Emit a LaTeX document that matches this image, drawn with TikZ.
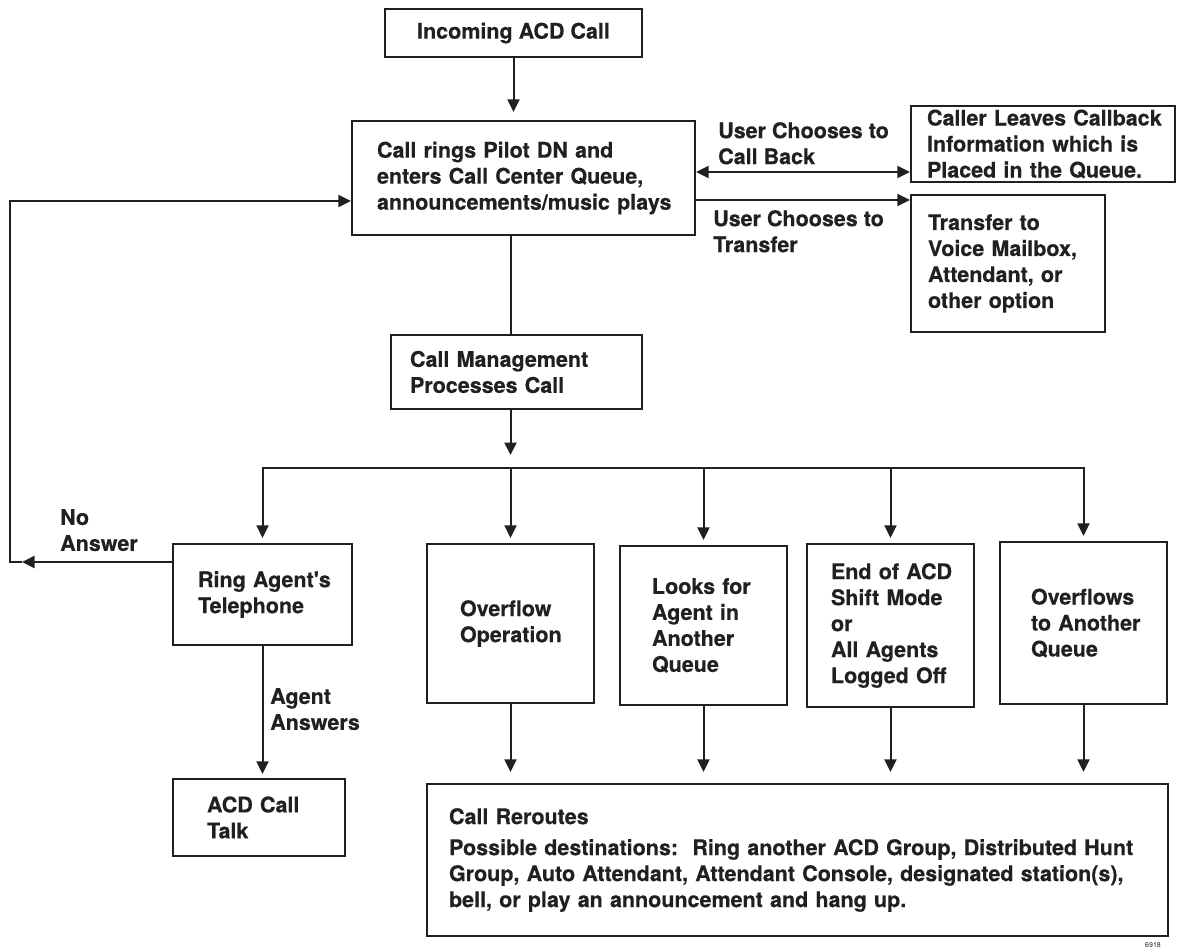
\documentclass[tikz,border=0pt]{standalone}
\usepackage{fontspec}
\setmainfont{TeX Gyre Heros}[BoldFeatures={FakeBold=0.4}]
\usetikzlibrary{arrows.meta,calc}
\definecolor{ink}{RGB}{35,31,32}
\begin{document}
\begin{tikzpicture}[x=1pt,y=-1pt,
  font=\fontsize{21.5}{26}\selectfont\bfseries,
  box/.style={draw=ink, line width=2.3pt, text=ink, inner ysep=0pt, align=left,
     execute at begin node={\rightskip=0pt plus 1fil minus 30pt}},
  conn/.style={draw=ink, line width=2pt},
  tip/.tip={Triangle[length=12.5pt,width=12pt]},
  arr/.style={conn, -tip},
  lbl/.style={text=ink, inner sep=0pt, anchor=north west, align=left},
]
\useasboundingbox (0,0) rectangle (1179,951);
\fill[white] (0,0) rectangle (1179,951);

% boxes
\node[draw=ink, line width=2.3pt, text=ink, inner sep=0pt, align=center,
      minimum width=257pt, minimum height=48pt] (inc) at (513.5,33) {Incoming ACD Call};
\node[box, minimum width=343pt, minimum height=114pt, inner xsep=25pt, text width=293pt]
  (rings) at (523.5,178) {Call rings Pilot DN and\\enters Call Center Queue,\\announcements/music plays};
\node[box, minimum width=264pt, minimum height=76pt, inner xsep=16pt, text width=232pt]
  (cb) at (1043,144) {Caller Leaves Callback\\Information which is\\Placed in the Queue.};
\node[box, minimum width=194pt, minimum height=137pt, inner xsep=17pt, text width=160pt]
  (tr) at (1008,263.5) {Transfer to\\Voice Mailbox,\\Attendant, or\\other option};
\node[box, minimum width=251pt, minimum height=74pt, inner xsep=19pt, text width=213pt]
  (cm) at (516.5,372) {Call Management\\Processes Call};
\node[box, minimum width=179pt, minimum height=101pt, inner xsep=25pt, text width=129pt]
  (ring) at (262.5,594.5) {Ring Agent\textquotesingle s\\Telephone};
\node[box, minimum width=167pt, minimum height=159pt, inner xsep=33pt, text width=101pt]
  (ov) at (510.5,623.5) {Overflow\\Operation};
\node[box, minimum width=167pt, minimum height=159pt, inner xsep=32pt, text width=103pt]
  (lk) at (703.5,625.5) {Looks for\\Agent in\\Another\\Queue};
\node[box, minimum width=167pt, minimum height=163pt, inner xsep=24pt, text width=119pt]
  (en) at (890.5,625.5) {End of ACD\\Shift Mode\\or\\All Agents\\Logged Off};
\node[box, minimum width=167pt, minimum height=162pt, inner xsep=31pt, text width=105pt]
  (ovq) at (1083.5,623) {Overflows\\to Another\\Queue};
\node[box, minimum width=172pt, minimum height=77pt, inner xsep=34pt, text width=104pt]
  (acd) at (259,817.5) {ACD Call\\Talk};
\node[box, minimum width=741pt, minimum height=152pt, inner xsep=22pt, text width=697pt]
  (rr) at (797.5,860) {Call Reroutes\\[5pt]Possible destinations:\ \ Ring another ACD Group, Distributed Hunt\\Group, Auto Attendant, Attendant Console, designated station(s),\\bell, or play an announcement and hang up.};

% labels
\node[lbl] (lcb) at (718,122) {User Chooses to\\Call Back};
\node[lbl] (ltr) at (713,210) {User Chooses to\\Transfer};
\node[lbl] (lno) at (60,509) {No\\Answer};
\node[lbl] (lag) at (270,688) {Agent\\Answers};
\node[text=ink, inner sep=0pt, font=\fontsize{7}{8}\selectfont\mdseries] (num) at (1153,945) {6918};

% helper coordinates
\coordinate (busy) at (0,468);
\coordinate (bushead) at (0,455);
\coordinate (cby) at (0,172);
\coordinate (try) at (0,200);
\coordinate (lpB) at (10,562);
\coordinate (lpT) at (10,201);
\coordinate (lpTip) at (22,562);

% connectors
\draw[arr, shorten >=8pt] (inc.south) -- (inc.south |- rings.north);
\draw[conn] (ov.north |- rings.south) -- (ov.north |- cm.north);
\draw[arr] (ov.north |- cm.south) -- (ov.north |- bushead);
\draw[conn, line cap=rect] (ring.north |- busy) -- (ovq.north |- busy);
\foreach \n in {ring,ov,lk,en,ovq}
  \draw[arr, shorten >=5pt] (\n.north |- busy) -- (\n.north);
\draw[arr, shorten >=4pt] (ring.south) -- (ring.south |- acd.north);
\foreach \n in {ov,lk,en,ovq}
  \draw[arr, shorten >=11pt] (\n.south) -- (\n.south |- rr.north);
\draw[arr] (lpB -| ring.west) -- (lpTip);
\draw[arr] (lpTip) -- (lpB) -- (lpT) -- (lpT -| rings.west);
\draw[conn, tip-tip] (cby -| rings.east) -- (cby -| cb.west);
\draw[arr] (try -| rings.east) -- (try -| tr.west);
\end{tikzpicture}
\end{document}
